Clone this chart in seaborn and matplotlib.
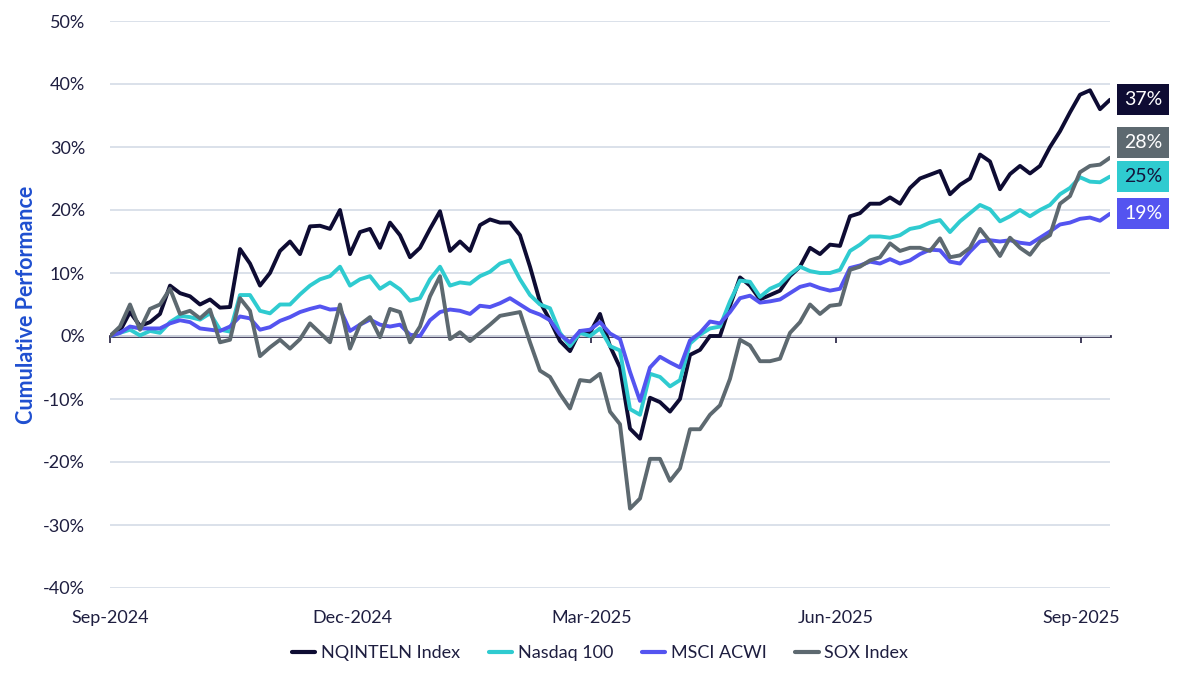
import pandas as pd
import matplotlib
matplotlib.use('Agg')
import matplotlib.pyplot as plt
import matplotlib.dates as mdates
import matplotlib.transforms as mtransforms
import seaborn as sns

# series (legend order) and colours
series = ['NQINTELN Index', 'Nasdaq 100', 'MSCI ACWI', 'SOX Index']
colors = ['#0e0c33', '#2fcbd0', '#5454f0', '#5d6970']
end_labels = ['37%', '25%', '19%', '28%']
end_text_colors = ['white', '#14143c', 'white', 'white']

# cumulative performance in %
nqinteln = [0, 0.8, 3.8, 1.6, 2.2, 3.5, 8.0, 6.8, 6.3, 5.0,
            5.8, 4.5, 4.6, 13.8, 11.5, 8.0, 10.0, 13.5, 15.0, 13.0,
            17.4, 17.5, 17.0, 20.0, 13.0, 16.5, 17.0, 14.0, 18.0, 16.0,
            12.5, 14.0, 17.0, 19.8, 13.5, 15.0, 13.5, 17.6, 18.5, 18.0,
            18.0, 16.0, 11.0, 5.4, 2.5, -0.8, -2.4, 0.8, 0.5, 3.5,
            -1.6, -5.0, -14.7, -16.3, -9.8, -10.5, -12.0, -10.0, -3.0, -2.2,
            0.0, 0.0, 4.8, 9.3, 8.0, 5.8, 6.5, 7.2, 9.5, 11.0,
            14.0, 13.0, 14.5, 14.3, 19.0, 19.5, 21.0, 21.0, 22.0, 21.0,
            23.5, 25.0, 25.6, 26.2, 22.5, 24.0, 25.0, 28.8, 27.7, 23.3,
            25.7, 27.0, 25.8, 27.0, 30.0, 32.5, 35.5, 38.3, 39.0, 36.0,
            37.5]
nasdaq100 = [0, 0.5, 1.0, 0.1, 0.8, 0.5, 2.2, 3.2, 3.0, 2.6,
             3.6, 1.0, 0.7, 6.5, 6.5, 4.0, 3.6, 5.0, 5.0, 6.6,
             8.0, 9.0, 9.5, 11.0, 8.0, 9.0, 9.5, 7.5, 8.5, 7.4,
             5.6, 6.0, 9.0, 11.0, 8.0, 8.5, 8.3, 9.5, 10.2, 11.5,
             12.0, 9.0, 6.5, 5.0, 4.4, 0.5, -1.6, 0.5, 0.0, 1.2,
             -1.6, -2.3, -11.6, -12.5, -6.0, -6.5, -8.0, -7.0, -1.2, 0.2,
             1.2, 1.5, 5.5, 8.8, 8.6, 6.2, 7.5, 8.2, 9.8, 11.0,
             10.3, 10.0, 10.0, 10.5, 13.5, 14.5, 15.8, 15.8, 15.6, 16.0,
             17.0, 17.3, 18.0, 18.4, 16.5, 18.2, 19.5, 20.8, 20.1, 18.2,
             19.0, 20.0, 19.0, 20.0, 20.8, 22.5, 23.5, 25.2, 24.5, 24.4,
             25.3]
msci_acwi = [0, 0.5, 1.5, 1.2, 1.2, 1.2, 2.0, 2.5, 2.2, 1.2,
             1.0, 0.8, 1.5, 3.1, 2.8, 1.0, 1.4, 2.4, 3.0, 3.8,
             4.3, 4.7, 4.2, 4.3, 0.8, 1.8, 2.6, 1.8, 1.5, 1.8,
             0.2, 0.0, 2.5, 3.8, 4.2, 4.0, 3.5, 4.8, 4.6, 5.2,
             6.0, 5.0, 4.0, 3.4, 2.5, 0.2, -1.0, 0.8, 1.0, 2.2,
             0.4, -0.5, -5.7, -10.3, -5.0, -3.3, -4.2, -5.0, -0.7, 0.5,
             2.3, 2.0, 3.8, 6.0, 6.4, 5.3, 5.5, 5.8, 6.8, 7.8,
             8.2, 7.6, 7.2, 7.5, 10.8, 11.2, 11.8, 11.5, 12.2, 11.5,
             12.0, 13.0, 13.7, 13.6, 11.8, 11.5, 13.4, 15.0, 15.2, 15.0,
             15.2, 14.8, 14.6, 15.6, 16.6, 17.7, 18.0, 18.6, 18.8, 18.3,
             19.4]
sox = [0, 1.5, 5.0, 1.0, 4.3, 5.0, 7.5, 3.5, 4.0, 2.8,
       4.2, -1.0, -0.6, 6.0, 4.0, -3.2, -1.8, -0.6, -2.0, -0.5,
       2.0, 0.5, -1.0, 5.0, -2.0, 1.8, 3.0, -0.2, 4.3, 3.8,
       -1.0, 1.5, 6.3, 9.5, -0.5, 0.6, -0.8, 0.5, 1.8, 3.2,
       3.5, 3.8, -1.0, -5.5, -6.5, -9.2, -11.5, -7.0, -7.2, -6.0,
       -12.0, -14.0, -27.4, -25.8, -19.5, -19.5, -23.0, -21.0, -14.8, -14.8,
       -12.5, -11.0, -6.8, -0.6, -1.5, -4.0, -4.0, -3.6, 0.5, 2.2,
       5.0, 3.5, 4.8, 5.0, 10.5, 11.0, 12.0, 12.5, 14.7, 13.5,
       14.0, 14.0, 13.5, 15.5, 12.5, 12.8, 14.0, 17.0, 15.0, 12.7,
       15.6, 14.0, 12.9, 15.0, 16.0, 21.0, 22.2, 26.0, 27.0, 27.2,
       28.3]

dates = pd.date_range('2024-09-01', '2025-09-12', periods=len(nqinteln))
tick_dates = pd.to_datetime(['2024-09-01', '2024-12-01', '2025-03-01',
                             '2025-06-01', '2025-09-01'])
tick_labels = ['Sep-2024', 'Dec-2024', 'Mar-2025', 'Jun-2025', 'Sep-2025']
y_ticks = list(range(-40, 51, 10))

df = pd.DataFrame({'Date': dates, series[0]: nqinteln, series[1]: nasdaq100,
                   series[2]: msci_acwi, series[3]: sox})
df_long = df.melt(id_vars='Date', var_name='Index', value_name='Perf')

sns.set_theme(style='white')
plt.rcParams['font.family'] = ['Lato', 'DejaVu Sans']
text_color = '#1e1e40'
zero_color = '#34304f'

fig = plt.figure(figsize=(12, 6.83), dpi=100)
ax = fig.add_axes([110 / 1200, 1 - 588 / 683, 1000 / 1200, 567 / 683])

sns.lineplot(data=df_long, x='Date', y='Perf', hue='Index', hue_order=series,
             palette=colors, linewidth=2.8, ax=ax, legend=False)

ax.set_xlim(dates[0], dates[-1])
ax.set_ylim(-40, 50)
ax.set_yticks(y_ticks)
ax.set_yticklabels([f'{v}%' for v in y_ticks])
ax.yaxis.grid(True, color='#d8dee8', linewidth=1.3)
ax.xaxis.grid(False)
for s in ax.spines.values():
    s.set_visible(False)
ax.set_xticks(tick_dates)
ax.set_xticklabels(tick_labels)
ax.tick_params(axis='x', length=0, pad=16, labelsize=13, labelcolor=text_color)
ax.tick_params(axis='y', length=0, pad=18, labelsize=13, labelcolor=text_color)
ax.set_xlabel('')
ax.set_ylabel('Cumulative Performance', fontsize=15.5, fontweight='bold', color='#1f4fd0')
ax.yaxis.set_label_coords(-0.073, 0.5)

# axis line at zero with small tick marks
sec = ax.secondary_xaxis(40 / 90)
sec.set_xticks(mdates.date2num(tick_dates))
sec.tick_params(axis='x', length=5, width=1.3, color=zero_color, labelbottom=False)
sec.spines['bottom'].set_color(zero_color)
sec.spines['bottom'].set_linewidth(2.0)

# end-of-line value boxes, stacked so they do not overlap
lasts = [nqinteln[-1], nasdaq100[-1], msci_acwi[-1], sox[-1]]
order = sorted(range(len(lasts)), key=lambda i: lasts[i])
gap = 5.4
label_y = {}
prev = None
for i in order:
    y = lasts[i] if prev is None else max(lasts[i], prev + gap)
    label_y[i] = y
    prev = y
trans = mtransforms.blended_transform_factory(ax.transAxes, ax.transData)
for i in range(len(series)):
    ax.text(1.014, label_y[i], end_labels[i], transform=trans, ha='left', va='center',
            fontsize=14, color=end_text_colors[i],
            bbox=dict(boxstyle='square,pad=0.35', fc=colors[i], ec='none'))

handles = [plt.Line2D([], [], color=c, linewidth=3) for c in colors]
fig.legend(handles, series, loc='center', bbox_to_anchor=(0.5, 1 - 653 / 683), ncol=4,
           frameon=False, fontsize=13, handlelength=1.3, handletextpad=0.3,
           columnspacing=1.6, labelcolor=text_color)

fig.savefig('out.png', dpi=100)
